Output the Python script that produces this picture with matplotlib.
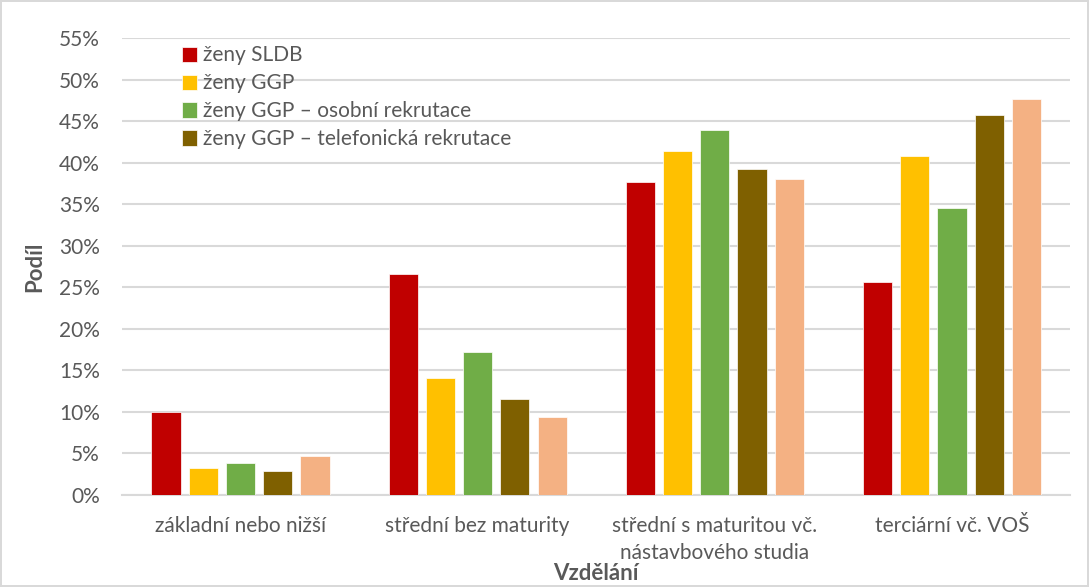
import matplotlib.pyplot as plt
import matplotlib.ticker as tck
import numpy as np

plt.rcParams['font.family'] = ['Lato', 'DejaVu Sans']

# categories and values (share in %)
kategorie = ["základní nebo nižší", "střední bez maturity",
             "střední s maturitou vč.\nnástavbového studia", "terciární vč. VOŠ"]
zeny_sldb = [10.0, 26.6, 37.7, 25.6]
zeny_ggp = [3.2, 14.1, 41.4, 40.8]
zeny_osobni = [3.8, 17.2, 43.9, 34.6]
zeny_telefon = [2.9, 11.5, 39.2, 45.8]
pata_rada = [4.7, 9.4, 38.0, 47.7]

serie = [
    (zeny_sldb, "ženy SLDB", "#C00000"),
    (zeny_ggp, "ženy GGP", "#FFC000"),
    (zeny_osobni, "ženy GGP – osobní rekrutace", "#70AD47"),
    (zeny_telefon, "ženy GGP – telefonická rekrutace", "#7F6000"),
    (pata_rada, "_nolegend_", "#F4B183"),
]

fig = plt.figure(figsize=(10.89, 5.87), dpi=100)
fig.patch.set_edgecolor('#d9d9d9')
fig.patch.set_linewidth(1.5)
ax = fig.add_axes([0.112, 0.157, 0.871, 0.778])

x = np.arange(len(kategorie))
step = 0.157
width = 0.123
for i, (vals, lab, col) in enumerate(serie):
    ax.bar(x + (i - 2) * step, vals, width, color=col, label=lab,
           edgecolor='white', linewidth=0.5, zorder=3)

ax.set_ylim(0, 55)
ax.set_xlim(-0.5, len(kategorie) - 0.5)
ax.yaxis.set_major_locator(tck.MultipleLocator(5))
ax.yaxis.set_major_formatter(tck.FuncFormatter(lambda v, p: f"{v:.0f}%"))
ax.grid(axis='y', color='#d9d9d9', linewidth=1.5, zorder=0)
ax.set_axisbelow(True)
for s in ['top', 'right', 'left']:
    ax.spines[s].set_visible(False)
ax.spines['bottom'].set_color('#d9d9d9')
ax.spines['bottom'].set_linewidth(1.5)
ax.tick_params(length=0, colors='#595959', labelsize=15)
ax.tick_params(axis='y', pad=16)
ax.tick_params(axis='x', pad=15)
ax.set_xticks(x)
ax.set_xticklabels(kategorie, linespacing=1.45)

ax.set_ylabel("Podíl", fontsize=16, fontweight='bold', color='#595959', labelpad=10)
ax.set_xlabel("Vzdělání", fontsize=16, fontweight='bold', color='#595959', labelpad=0)

leg = ax.legend(loc='upper left', bbox_to_anchor=(0.043, 1.025), frameon=False,
                fontsize=15, labelspacing=0.38, handlelength=0.75, handleheight=0.75,
                handletextpad=0.3, labelcolor='#595959')

plt.savefig("out.png", dpi=100)
